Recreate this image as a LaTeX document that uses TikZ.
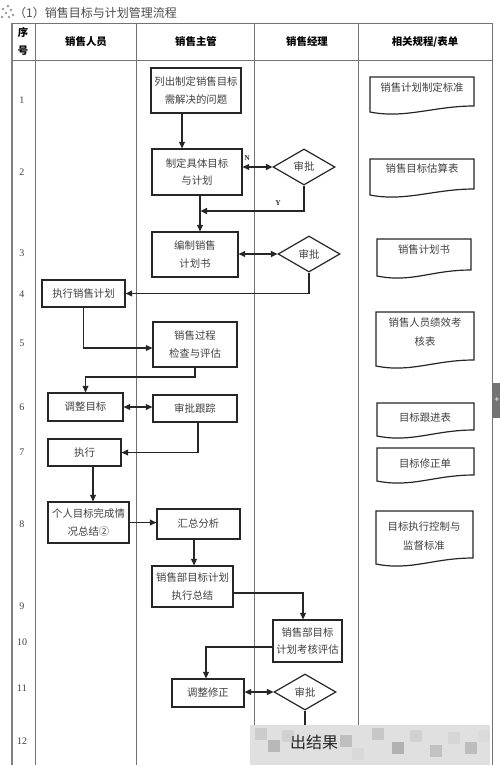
\documentclass[tikz,border=0pt]{standalone}
\usepackage{fontspec}
\setmainfont{Liberation Serif}
\newfontfamily\cjk{Noto Sans CJK SC}
\usetikzlibrary{shapes.geometric,arrows.meta}
\newcommand{\mydocshape}[4]{\draw[docline] (#1,#2) -- (#3,#2) -- (#3,#4-6) .. controls ({#3-40},{#4-6}) and ({#1+35},{#4+7}) .. (#1,#4) -- cycle;}
\tikzset{
  box/.style={draw=black!85, line width=1.3pt, inner sep=0pt, align=center,
    font=\cjk\fontsize{10.4}{17.5}\selectfont, text=black!75},
  dia/.style={diamond, draw=black!85, line width=1.2pt, inner sep=0pt,
    minimum width=62pt, minimum height=36pt,
    font=\cjk\fontsize{10.4}{12}\selectfont, text=black!75},
  arr/.style={line width=1.2pt, draw=black!85, -{Triangle[length=6.5pt,width=6pt]}},
  darr/.style={line width=1.2pt, draw=black!85, {Triangle[length=6.5pt,width=6pt]}-{Triangle[length=6.5pt,width=6pt]}},
  ln/.style={line width=1.2pt, draw=black!85},
  gridline/.style={draw=black!55, line width=0.9pt},
  hdr/.style={font=\cjk\bfseries\fontsize{10.4}{18}\selectfont, align=center, inner sep=0pt},
  num/.style={font=\fontsize{10}{12}\selectfont, text=black!75, inner sep=0pt},
  docline/.style={draw=black!85, line width=1.2pt},
  doctext/.style={font=\cjk\fontsize{10.4}{19}\selectfont, text=black!75, align=center, inner sep=0pt},
  lbl/.style={font=\bfseries\fontsize{7.5}{8}\selectfont, text=black!80, inner sep=0pt}
}
\begin{document}
\begin{tikzpicture}[x=1pt,y=-1pt]
\useasboundingbox (0,0) rectangle (500,765);
\fill[white] (0,0) rectangle (500,765);

% title
\foreach \p in {(3,9),(8,6),(6,13),(11,10),(2,17),(9,17),(13,15)}
  \fill[black!40] \p circle (1.3);
\node[anchor=west, inner sep=0pt, font=\cjk\fontsize{12}{14}\selectfont, text=black!70] (title) at (14,13) {（1）销售目标与计划管理流程};

% table grid
\draw[draw=black!50, line width=1.8pt] (12,23) -- (12,765);
\draw[gridline] (12,23) -- (492,23);
\draw[gridline] (12,60) -- (492,60);
\foreach \xx in {35.5,136.5,254.5,358,492}
  \draw[gridline] (\xx,23) -- (\xx,765);

% header
\node[hdr] (h0) at (23,41) {序\\号};
\node[hdr] (h1) at (86,42) {销售人员};
\node[hdr] (h2) at (196,42) {销售主管};
\node[hdr] (h3) at (307,42) {销售经理};
\node[hdr] (h4) at (425,42) {相关规程/表单};

% row numbers
\foreach \n/\yy in {1/100,2/172,3/253,4/294,5/343,6/407,7/452,8/524,9/606,10/642,11/688,12/741}
  \node[num] (r\n) at (22,\yy) {\n};

% boxes
\node[box, minimum width=90pt, minimum height=45pt] (B1) at (196,90.5) {列出制定销售目标\\需解决的问题};
\node[box, minimum width=90pt, minimum height=46pt] (B2) at (197,172) {制定具体目标\\与计划};
\node[box, minimum width=86pt, minimum height=45pt] (B3) at (195,254.5) {编制销售\\计划书};
\node[box, minimum width=83pt, minimum height=27pt] (B4) at (83.5,293.5) {执行销售计划};
\node[box, minimum width=84pt, minimum height=45pt] (B5) at (195,344.5) {销售过程\\检查与评估};
\node[box, minimum width=75pt, minimum height=28pt] (B6) at (85.5,407) {调整目标};
\node[box, minimum width=84pt, minimum height=27pt] (B7) at (195,408.5) {审批跟踪};
\node[box, minimum width=73pt, minimum height=27pt] (B8) at (84.5,452.5) {执行};
\node[box, minimum width=81pt, minimum height=41pt] (B9) at (88.5,522.5) {个人目标完成情\\况总结②};
\node[box, minimum width=83pt, minimum height=30pt] (B10) at (198.5,524) {汇总分析};
\node[box, minimum width=81pt, minimum height=41pt] (B11) at (192.5,586.5) {销售部目标计划\\执行总结};
\node[box, minimum width=69pt, minimum height=42pt] (B12) at (307.5,641) {销售部目标\\计划考核评估};
\node[box, minimum width=72pt, minimum height=28pt] (B13) at (208,693) {调整修正};

% diamonds
\node[dia] (D1) at (304,167) {审批};
\node[dia] (D2) at (309,254) {审批};
\node[dia] (D3) at (305,692) {审批};

% helper coordinates
\coordinate (xa) at (182,0);
\coordinate (xb) at (200,0);
\coordinate (ya) at (0,211);
\coordinate (yc) at (0,377);
\coordinate (xc) at (93,0);
\coordinate (xd) at (194,0);
\coordinate (xe) at (303,0);
\coordinate (ye) at (0,593);
\coordinate (xf) at (206,0);
\coordinate (yf) at (0,647);
\coordinate (yend) at (0,727);

% connectors
\draw[arr] (B1.south -| xa) -- (B2.north -| xa);
\draw[darr] (D1.west -| B2.east) -- (D1.west);
\node[lbl] (lN) at (247,158) {N};
\draw[arr] (D1.south) |- ([xshift=0.6pt]ya -| xb);
\node[lbl] (lY) at (278,203) {Y};
\draw[arr] (B2.south -| xb) -- (B3.north -| xb);
\draw[darr] (D2.west -| B3.east) -- (D2.west);
\draw[arr] (D2.south) |- (B4.east);
\draw[arr] (B4.south) |- ([yshift=-3.5pt]B5.west);
\draw[arr] (B5.south) -- (B5.south |- yc) -| (B6.north);
\draw[darr] (B6.east) -- (B6.east -| B7.west);
\draw[arr] ([xshift=3pt]B7.south) |- (B8.east);
\draw[arr] (B8.south -| xc) -- (B9.north -| xc);
\draw[arr] (B9.east) -- (B9.east -| B10.west);
\draw[arr] (B10.south -| xd) -- (B11.north -| xd);
\draw[arr] (B11.east |- ye) -| (B12.north -| xe);
\draw[arr] (B12.west |- yf) -| (B13.north -| xf);
\draw[darr] (D3.west -| B13.east) -- (D3.west);
\draw[ln] (D3.south) -- (D3.south |- yend);

% documents
\mydocshape{370}{77}{474}{112}
\node[doctext] (d1) at (422,88) {销售计划制定标准};
\mydocshape{370}{159}{474}{195}
\node[doctext] (d2) at (422,169) {销售目标估算表};
\mydocshape{377}{239}{471}{276}
\node[doctext] (d3) at (424,250) {销售计划书};
\mydocshape{376}{312}{474}{366}
\node[doctext] (d4) at (425,332.5) {销售人员绩效考\\核表};
\mydocshape{377}{403}{474}{436}
\node[doctext] (d5) at (425,418) {目标跟进表};
\mydocshape{377}{448}{474}{481}
\node[doctext] (d6) at (425,464) {目标修正单};
\mydocshape{376}{511}{473}{564}
\node[doctext] (d7) at (424,536) {目标执行控制与\\监督标准};

% watermark band
\fill[black!12] (250,725) rectangle (490,765);
\foreach \bx/\by/\bc in {255/728/20,268/740/28,282/730/18,340/735/25,352/748/15,372/728/22,392/742/30,410/730/18,430/745/24,448/732/16,465/742/26,478/730/14}
  \fill[black!\bc] (\bx,\by) rectangle ++(12,12);
\node[inner sep=0pt, font=\cjk\fontsize{16}{18}\selectfont, text=black!85] (wm) at (314,742) {出结果};

% side tab
\fill[black!55] (493,383) rectangle (500,418);
\node[inner sep=0pt, text=white, font=\bfseries\fontsize{9}{9}\selectfont] (tab) at (497,400) {+};
\end{tikzpicture}
\end{document}
